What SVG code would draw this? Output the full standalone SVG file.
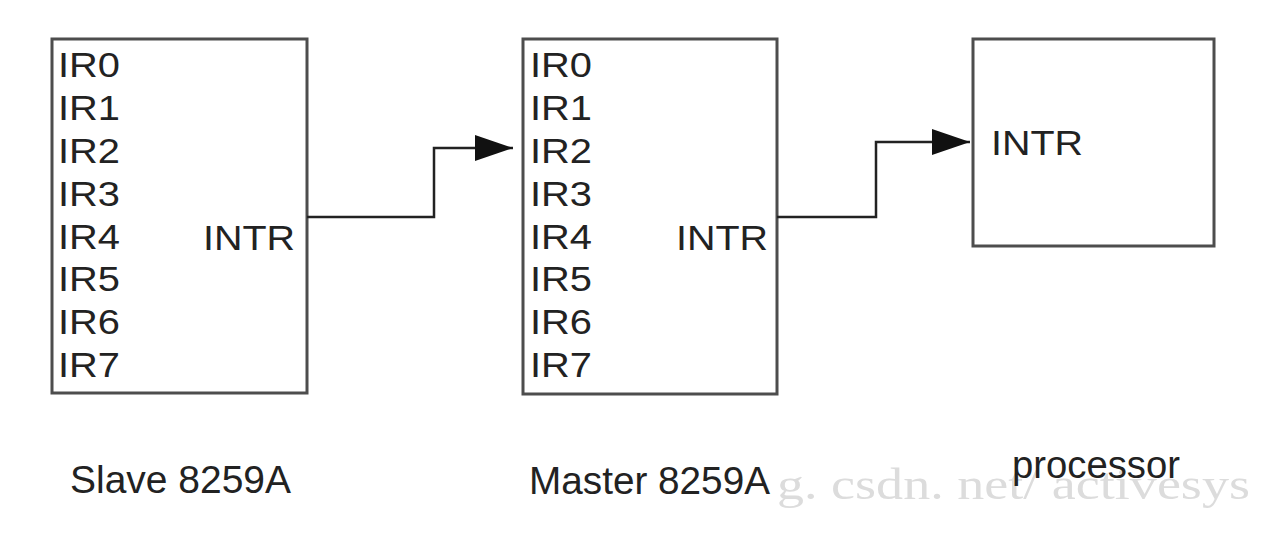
<svg xmlns="http://www.w3.org/2000/svg" width="1280" height="534" viewBox="0 0 1280 534">
<style>
.box{fill:#fff;stroke:#4d4d4d;stroke-width:3}
.lbl{font-family:"Liberation Sans",Arial,sans-serif;font-size:35px;fill:#222}
.cap{font-family:"Liberation Sans",Arial,sans-serif;font-size:38px;fill:#222}
.wm{font-family:"Liberation Serif","Times New Roman",serif;font-size:44px;fill:#dcdcdc}
.conn{fill:none;stroke:#222;stroke-width:2.5}
</style>
<defs>
<marker id="arr" markerUnits="userSpaceOnUse" markerWidth="38" markerHeight="26" viewBox="0 0 38 26" refX="38" refY="13" orient="auto">
<path d="M0,0 L38,13 L0,26 z" fill="#111"/>
</marker>
</defs>
<rect width="1280" height="534" fill="#fff"/>
<text class="wm" x="777" y="499" textLength="473" lengthAdjust="spacingAndGlyphs">g. csdn. net/ activesys</text>
<g id="slave">
<rect class="box" x="52" y="39" width="255" height="354"/>
<text class="lbl" x="58" y="77" textLength="62" lengthAdjust="spacingAndGlyphs">IR0</text>
<text class="lbl" x="58" y="120" textLength="62" lengthAdjust="spacingAndGlyphs">IR1</text>
<text class="lbl" x="58" y="163" textLength="62" lengthAdjust="spacingAndGlyphs">IR2</text>
<text class="lbl" x="58" y="206" textLength="62" lengthAdjust="spacingAndGlyphs">IR3</text>
<text class="lbl" x="58" y="249" textLength="62" lengthAdjust="spacingAndGlyphs">IR4</text>
<text class="lbl" x="58" y="291" textLength="62" lengthAdjust="spacingAndGlyphs">IR5</text>
<text class="lbl" x="58" y="334" textLength="62" lengthAdjust="spacingAndGlyphs">IR6</text>
<text class="lbl" x="58" y="377" textLength="62" lengthAdjust="spacingAndGlyphs">IR7</text>
<text class="lbl" x="203" y="250" textLength="92" lengthAdjust="spacingAndGlyphs">INTR</text>
<text class="cap" x="70" y="493" textLength="221" lengthAdjust="spacingAndGlyphs">Slave 8259A</text>
</g>
<g id="master">
<rect class="box" x="523" y="39" width="254" height="355"/>
<text class="lbl" x="530" y="77" textLength="62" lengthAdjust="spacingAndGlyphs">IR0</text>
<text class="lbl" x="530" y="120" textLength="62" lengthAdjust="spacingAndGlyphs">IR1</text>
<text class="lbl" x="530" y="163" textLength="62" lengthAdjust="spacingAndGlyphs">IR2</text>
<text class="lbl" x="530" y="206" textLength="62" lengthAdjust="spacingAndGlyphs">IR3</text>
<text class="lbl" x="530" y="249" textLength="62" lengthAdjust="spacingAndGlyphs">IR4</text>
<text class="lbl" x="530" y="291" textLength="62" lengthAdjust="spacingAndGlyphs">IR5</text>
<text class="lbl" x="530" y="334" textLength="62" lengthAdjust="spacingAndGlyphs">IR6</text>
<text class="lbl" x="530" y="377" textLength="62" lengthAdjust="spacingAndGlyphs">IR7</text>
<text class="lbl" x="676" y="250" textLength="92" lengthAdjust="spacingAndGlyphs">INTR</text>
<text class="cap" x="529" y="494" textLength="241" lengthAdjust="spacingAndGlyphs">Master 8259A</text>
</g>
<g id="processor">
<rect class="box" x="973" y="39" width="241" height="207"/>
<text class="lbl" x="991" y="155" textLength="92" lengthAdjust="spacingAndGlyphs">INTR</text>
<text class="cap" x="1012" y="478" textLength="168" lengthAdjust="spacingAndGlyphs">processor</text>
</g>
<g id="connectors">
<path class="conn" d="M307,217 H434 V148 H513" marker-end="url(#arr)"/>
<path class="conn" d="M777,217 H876 V142 H970" marker-end="url(#arr)"/>
</g>
</svg>
